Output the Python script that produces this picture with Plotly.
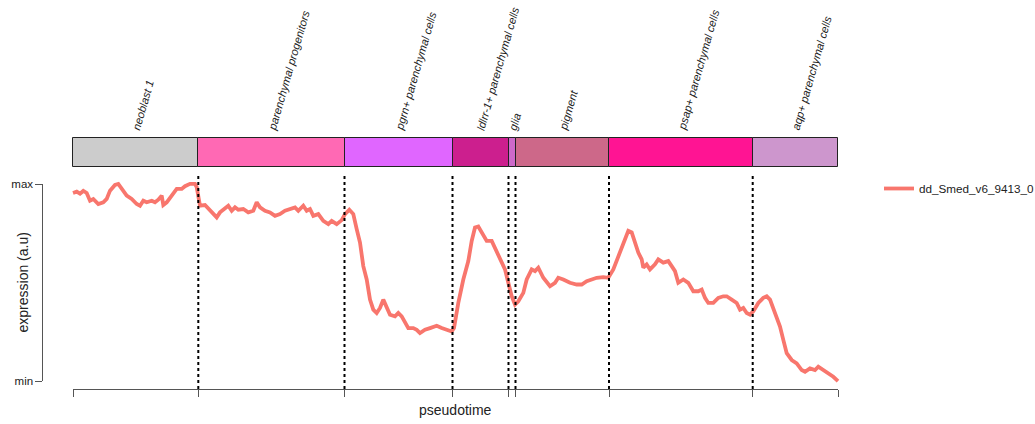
import plotly.graph_objects as go

# Smoothed expression of dd_Smed_v6_9413_0 along the pseudotime trajectory
pseudotime = [
    0, 3.7, 7, 10.3, 13.7, 17, 20.3, 25.3, 30.3, 33.7,
    37, 42, 45.3, 48.7, 53.7, 58.7, 63.7, 67, 70.3, 73.7,
    78.7, 82, 85.3, 88.7, 90.3, 93.7, 98.7, 103.7, 108.7, 112,
    117, 122, 123.7, 125.3, 127, 132, 137, 143.7, 147, 152,
    155.3, 158.7, 162, 165.3, 170.3, 175.3, 180.3, 183.7, 187, 192,
    197, 202, 207, 212, 217, 222, 225.3, 230.3, 233.7, 237,
    240.3, 245.3, 250.3, 255.3, 258.7, 263.7, 268.7, 272, 276.3, 280.3,
    283.7, 287, 290.3, 293.7, 297, 300.3, 303.7, 307, 310.3, 313.7,
    317, 322, 325.3, 328.7, 332, 335.3, 340.3, 343.7, 347, 352,
    357, 363.7, 368.7, 373.7, 378.7, 381, 385.3, 390.3, 395.3, 398.7,
    402, 405.3, 410.3, 413.7, 418.7, 423.7, 428.7, 432, 435.3, 438.7,
    442, 445.3, 450.3, 453.7, 458.7, 462, 465.3, 470.3, 477, 482,
    485.3, 490.3, 497, 503.7, 508.7, 513.7, 518.7, 523.7, 530.3, 535.3,
    540.3, 547, 552, 555.3, 558.7, 562, 565.3, 568.7, 570.3, 573.7,
    577, 582, 585.3, 590.3, 595.3, 598.7, 602, 605.3, 610.3, 615.3,
    620.3, 625.3, 628.7, 632, 635.3, 640.3, 645.3, 650.3, 653.7, 658.7,
    663.7, 667, 670.3, 673.7, 677, 680.3, 685.3, 690.3, 693.7, 697,
    702, 707, 710.3, 713.7, 718.7, 723.7, 728.7, 732, 737, 742,
    745.3, 750.3, 755.3, 760.3, 765,
]
expression = [
    187, 188.3, 186.3, 189, 187, 179.3, 181, 176, 177.7, 181,
    189.3, 195, 196, 191, 184.3, 181, 176, 174.3, 179.3, 177.7,
    179.3, 177.7, 180.3, 184.3, 175, 177.7, 184.3, 191, 191, 193.7,
    196, 196, 192.7, 182.7, 174.3, 175, 169.3, 162.7, 167.7, 171,
    174.3, 169.3, 172.7, 170.3, 171, 167.7, 169.3, 177.7, 172.7, 169.3,
    167.7, 164.3, 166, 169.3, 171, 172.7, 169.3, 174.3, 169.3, 171,
    164.3, 166, 159.3, 156, 159.3, 156, 160, 166, 170.3, 166,
    151, 137.7, 114.3, 101, 81, 71, 67.7, 72.7, 81, 74.3,
    66, 64.3, 67.7, 64.3, 57.7, 52.7, 52.7, 51, 47.7, 51,
    52.7, 55, 52.7, 51, 49.3, 52.7, 77.7, 101, 119.3, 139.3,
    152.7, 153.7, 146, 139.3, 139.3, 129.3, 119.3, 111, 97.7, 84.3,
    76, 79.3, 87.7, 101, 111, 109.3, 112.7, 102.7, 94.3, 97.7,
    102.7, 101, 97.7, 96, 96, 99.3, 101, 102.7, 103.3, 102.7,
    111, 127.7, 139.3, 149.3, 147.7, 137.7, 127.7, 121, 112.7, 116,
    111, 116, 121, 117.7, 119.3, 114.3, 109.3, 97.7, 101, 97.7,
    89.3, 89.3, 91, 82.7, 77.7, 77.7, 82.7, 84.3, 84.3, 81,
    77.7, 71, 72.7, 67.7, 66, 69.3, 77.7, 82.7, 84.3, 81,
    67.7, 54.3, 41, 27.7, 21, 17.7, 11, 9.3, 12.7, 11,
    14.3, 11, 7.7, 4.3, 0,
]
gene_name = "dd_Smed_v6_9413_0"

# Cell-type segments along pseudotime
stage_names = [
    "neoblast 1", "parenchymal progenitors", "pgrn+ parenchymal cells",
    "ldlrr-1+ parenchymal cells", "glia", "pigment",
    "psap+ parenchymal cells", "aqp+ parenchymal cells",
]
stage_start = [0, 125.3, 271.5, 379.5, 435.5, 442.5, 536, 679.7]
stage_end = [125.3, 271.5, 379.5, 435.5, 442.5, 536, 679.7, 765]
stage_colors = ["#CCCCCC", "#FF69B4", "#E066FF", "#CC1F8E",
                "#CD69C9", "#CD6889", "#FF1493", "#CD96CD"]

W, H = 1035, 424
T0, T1 = stage_start[0], stage_end[-1]
span = T1 - T0


def fx(p):
    return p / W


def fy(p):
    return 1 - p / H


lo, hi = min(expression), max(expression)
expr_norm = [(v - lo) / (hi - lo) for v in expression]

fig = go.Figure()

# main curve (plot region padded 4% like base graphics)
fig.add_trace(go.Scatter(
    x=pseudotime, y=expr_norm, mode="lines", name=gene_name,
    line=dict(color="#F8766D", width=3.8), hoverinfo="skip",
))

# invisible carrier for the bracket-style axes
fig.add_trace(go.Scatter(
    x=[T0], y=[0], xaxis="x2", yaxis="y2", mode="markers",
    marker=dict(opacity=0), showlegend=False, hoverinfo="skip",
))

# cell-type band
fig.add_trace(go.Bar(
    x=[(s + e) / 2 for s, e in zip(stage_start, stage_end)],
    y=[1] * len(stage_names),
    width=[e - s for s, e in zip(stage_start, stage_end)],
    base=0, xaxis="x3", yaxis="y3",
    marker=dict(color=stage_colors, line=dict(color="#222222", width=1)),
    showlegend=False, hoverinfo="skip",
))

band_top, band_bot = 138, 167
band_pad = 1.0 / (band_bot - band_top)

fig.update_layout(
    template="none",
    width=W, height=H, margin=dict(l=0, r=0, t=0, b=0, autoexpand=False),
    paper_bgcolor="white", plot_bgcolor="rgba(0,0,0,0)",
    font=dict(family="Liberation Sans, Arial, sans-serif", color="#222222"),
    showlegend=True,
    bargap=0,
    xaxis=dict(domain=[fx(42.4), fx(868.6)], range=[T0 - 0.04 * span, T1 + 0.04 * span],
               visible=False, fixedrange=True, automargin=False),
    yaxis=dict(domain=[fy(389), fy(176)], range=[-0.04, 1.04], visible=False,
               fixedrange=True, automargin=False),
    xaxis2=dict(domain=[fx(73), fx(838)], range=[T0, T1], anchor="free",
                position=fy(389), showline=True, linecolor="#555555", linewidth=1,
                ticks="outside", ticklen=7, tickcolor="#555555", tickwidth=1,
                tickvals=[T0] + stage_end, showticklabels=False, showgrid=False,
                zeroline=False, automargin=False),
    yaxis2=dict(domain=[fy(381), fy(184)], range=[0, 1], anchor="free",
                position=fx(42.4), side="left", showline=True, linecolor="#555555",
                linewidth=1, ticks="outside", ticklen=7, tickcolor="#555555",
                tickwidth=1, tickvals=[0, 1], ticktext=["min", "max"],
                tickfont=dict(size=11.5, color="#222222"), showgrid=False,
                zeroline=False, automargin=False),
    xaxis3=dict(domain=[fx(72), fx(839)], range=[T0 - 1, T1 + 1], visible=False,
                automargin=False),
    yaxis3=dict(domain=[fy(band_bot + 1), fy(band_top - 1)],
                range=[-band_pad, 1 + band_pad], visible=False, automargin=False),
    legend=dict(x=fx(879), y=fy(174), xanchor="left", yanchor="top",
                font=dict(size=11.7, color="#222222"), bgcolor="rgba(0,0,0,0)",
                borderwidth=0),
)

# dotted separators between cell types
for b in stage_end[:-1]:
    fig.add_shape(type="line", xref="x", yref="y domain", x0=b, x1=b, y0=0, y1=1,
                  line=dict(color="black", width=2, dash="3px,3px"), layer="above")

# rotated cell-type labels above the band
for name, s, e in zip(stage_names, stage_start, stage_end):
    fig.add_annotation(
        x=(s + e) / 2, y=1, xref="x3", yref="y3", text=name, showarrow=False,
        textangle=-74, xanchor="left", yanchor="bottom", xshift=-8, yshift=4,
        font=dict(size=11.2, color="#222222", style="italic"),
    )

fig.add_annotation(x=fx(22), y=fy(282.5), xref="paper", yref="paper",
                   xanchor="center", yanchor="middle",
                   text="expression (a.u)", textangle=-90, showarrow=False,
                   font=dict(size=14, color="#222222"))
fig.add_annotation(x=fx(455.5), y=fy(410), xref="paper", yref="paper",
                   xanchor="center", yanchor="middle",
                   text="pseudotime", showarrow=False,
                   font=dict(size=14, color="#222222"))

fig.write_html("out.html")
